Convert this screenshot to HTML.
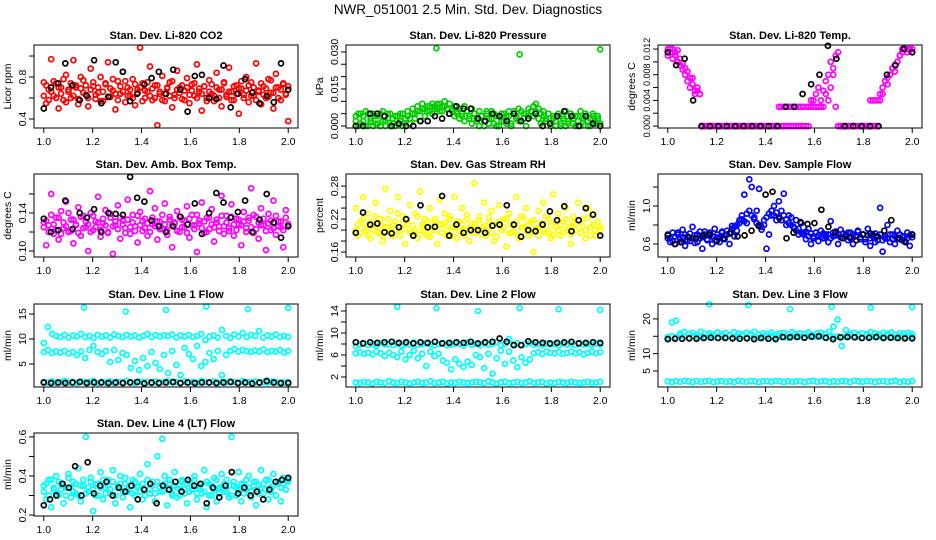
<!DOCTYPE html>
<html><head><meta charset="utf-8"><style>
body{margin:0;background:#fff}
svg{display:block;font-family:"Liberation Sans",Arial,sans-serif}
</style></head><body>
<svg id="chart" width="936" height="540" viewBox="0 0 936 540" xmlns="http://www.w3.org/2000/svg">
<rect width="936" height="540" fill="#fff"/>
<text x="468" y="14" text-anchor="middle" font-size="13.5">NWR_051001  2.5 Min. Std. Dev. Diagnostics</text>
</svg>
<script>
// ---- data arrays ----
const co2Red=[0.75,0.55,0.68,0.97,0.62,0.74,0.50,0.70,0.58,0.82,0.66,0.60,0.96,0.72,0.54,0.69,0.77,0.63,0.52,0.88,0.71,0.59,0.65,0.80,0.57,0.73,0.94,0.61,0.67,0.49,0.76,0.64,0.85,0.56,0.70,0.62,0.78,0.53,0.68,1.08,0.74,0.60,0.66,0.90,0.58,0.72,0.34,0.64,0.81,0.57,0.69,0.75,0.51,0.63,0.86,0.70,0.59,0.67,0.79,0.55,0.73,0.62,0.92,0.66,0.48,0.71,0.60,0.77,0.64,0.57,0.84,0.68,0.52,0.74,0.61,0.89,0.66,0.58,0.72,0.45,0.69,0.63,0.80,0.56,0.75,0.62,0.93,0.67,0.54,0.71,0.60,0.78,0.65,0.50,0.83,0.70,0.58,0.74,0.63,0.38];
const co2Red2=[0.62,0.72,0.58,0.66,0.76,0.6,0.7,0.64,0.78,0.56,0.68,0.74,0.62,0.7,0.59,0.8,0.65,0.72,0.6,0.68,0.75,0.63,0.7,0.57,0.66,0.74,0.61,0.69,0.78,0.64,0.58,0.71,0.66,0.76,0.62,0.68,0.6,0.73,0.65,0.7,0.57,0.67,0.75,0.62,0.69,0.6,0.72,0.66,0.58,0.64,0.7,0.62,0.76,0.6,0.68,0.65,0.72,0.58,0.7,0.63,0.67,0.74,0.6,0.69,0.64,0.71,0.57,0.66,0.73,0.62,0.7,0.6,0.68,0.75,0.63,0.66,0.58,0.71,0.64,0.69,0.76,0.6,0.67,0.72,0.62,0.7,0.58,0.66,0.74,0.63,0.69,0.61,0.77,0.65,0.7,0.6,0.68,0.73,0.64,0.71];
const co2Black=[0.50,0.70,0.74,0.93,0.72,0.58,0.62,0.96,0.55,0.61,0.94,0.85,0.57,0.64,0.73,0.79,0.85,0.64,0.87,0.68,0.47,0.81,0.82,0.60,0.59,0.91,0.51,0.64,0.78,0.65,0.55,0.62,0.56,0.93,0.68];
const presGreen=[0.004,0.000,0.005,0.002,0.006,0.000,0.003,0.005,0.001,0.004,0.000,0.006,0.002,0.005,0.000,0.003,0.004,0.001,0.005,0.000,0.003,0.004,0.001,0.005,0.003,0.006,0.002,0.007,0.004,0.006,0.008,0.005,0.007,0.009,0.006,0.008,0.010,0.007,0.009,0.006,0.008,0.005,0.007,0.004,0.008,0.006,0.003,0.007,0.005,0.002,0.006,0.004,0.000,0.005,0.003,0.006,0.001,0.004,0.000,0.005,0.002,0.004,0.006,0.001,0.005,0.003,0.007,0.002,0.005,0.000,0.004,0.006,0.008,0.009,0.007,0.005,0.006,0.003,0.005,0.000,0.004,0.002,0.005,0.000,0.004,0.006,0.001,0.005,0.003,0.000,0.004,0.006,0.002,0.005,0.000,0.003,0.005,0.001,0.004,0.000];
const presGreen2=[0.002,0.005,0.001,0.004,0.000,0.005,0.002,0.000,0.004,0.001,0.005,0.002,0.000,0.003,0.005,0.001,0.000,0.004,0.002,0.005,0.001,0.006,0.003,0.007,0.005,0.008,0.006,0.009,0.007,0.008,0.006,0.009,0.008,0.007,0.009,0.006,0.008,0.007,0.005,0.007,0.004,0.006,0.003,0.005,0.002,0.006,0.004,0.001,0.005,0.003,0.000,0.004,0.002,0.006,0.001,0.003,0.005,0.000,0.004,0.002,0.005,0.001,0.004,0.000,0.006,0.004,0.002,0.006,0.003,0.005,0.007,0.006,0.004,0.006,0.003,0.001,0.004,0.002,0.005,0.001,0.003,0.000,0.004,0.001,0.003,0.000,0.002,0.005,0.001,0.004,0.002,0.000,0.003,0.005,0.002,0.000,0.004,0.002,0.003,0.001];
const presOutX=[1.33,1.67,2.0];
const presOutY=[0.0315,0.0290,0.0310];
const presBlack=[0.000,0.000,0.005,0.005,0.004,0.000,0.001,0.000,0.000,0.002,0.002,0.004,0.003,0.005,0.008,0.007,0.007,0.003,0.002,0.005,0.004,0.002,0.005,0.002,0.003,0.005,0.000,0.001,0.004,0.006,0.004,0.000,0.004,0.001,0.000];
const tempMagA=[0.012,0.0115,0.012,0.011,0.0118,0.0105,0.0098,0.009,0.0085,0.0075,0.0065,0.0055,0.006,0.005,0,0,0,0,0,0,0,0,0,0,0,0,0,0,0,0,0,0,0,0,0,0,0,0,0,0,0,0,0,0,0,0.003,0.003,0.003,0.003,0.003,0.003,0.003,0.003,0.003,0.003,0.003,0.003,0.003,0.003,0.003,0.003,0.003,0.003,0.0055,0.007,0.008,0.010,0.009,0.011,0.0115,0,0,0,0,0,0,0,0,0,0,0,0,0,0,0,0,0.005,0.006,0.007,0.0065,0.008,0.009,0.0085,0.010,0.011,0.0115,0.012,0.012,0.0118,0.0115];
const tempMagB=[0.011,0.012,0.0105,0.0115,0.010,0.0095,0.0088,0.008,0.007,0.006,0.0075,0.005,0.0055,0.005,0,0,0,0,0,0,0,0,0,0,0,0,0,0,0,0,0,0,0,0,0,0,0,0,0,0,0,0,0,0,0,0,0,0,0,0,0,0,0,0,0,0,0,0,0.004,0.004,0.005,0.006,0.004,0.003,0.005,0.004,0.006,0.008,0.003,0,0,0,0,0,0,0,0,0,0,0,0,0,0.004,0.004,0.004,0.004,0.004,0.005,0.007,0.0075,0.008,0.009,0.0095,0.010,0.011,0.012,0.012,0.0115,0.012,0.012];
const tempBlack=[0.0115,0.0095,0.0105,0.004,0,0,0,0,0,0,0,0,0,0,0.003,0.003,0.005,0.0065,0.008,0.0125,0.0105,0,0,0,0,0,0.008,0.0095,0.012,0.0115];
const ambMag=[0.13,0.106,0.127,0.16,0.118,0.135,0.112,0.142,0.124,0.152,0.12,0.133,0.108,0.128,0.146,0.116,0.137,0.125,0.10,0.14,0.122,0.131,0.157,0.115,0.129,0.143,0.119,0.135,0.097,0.127,0.148,0.113,0.132,0.124,0.154,0.118,0.138,0.126,0.109,0.141,0.121,0.134,0.116,0.163,0.128,0.145,0.112,0.131,0.123,0.15,0.117,0.136,0.104,0.129,0.142,0.12,0.133,0.125,0.147,0.114,0.138,0.127,0.099,0.132,0.151,0.119,0.135,0.123,0.144,0.11,0.13,0.126,0.158,0.118,0.137,0.121,0.149,0.116,0.134,0.128,0.106,0.141,0.124,0.132,0.166,0.119,0.136,0.113,0.145,0.127,0.101,0.139,0.122,0.153,0.117,0.131,0.125,0.104,0.143,0.128];
const ambMag2=[0.125,0.132,0.12,0.138,0.128,0.122,0.135,0.118,0.13,0.126,0.14,0.121,0.133,0.127,0.119,0.136,0.124,0.131,0.128,0.12,0.137,0.125,0.13,0.122,0.134,0.127,0.12,0.139,0.126,0.131,0.123,0.135,0.128,0.119,0.133,0.125,0.13,0.121,0.137,0.127,0.132,0.124,0.129,0.12,0.135,0.126,0.131,0.123,0.138,0.128,0.122,0.133,0.127,0.13,0.121,0.136,0.125,0.132,0.119,0.134,0.127,0.123,0.138,0.129,0.124,0.131,0.12,0.135,0.128,0.125,0.133,0.121,0.137,0.126,0.13,0.124,0.136,0.128,0.122,0.133,0.127,0.131,0.12,0.135,0.125,0.138,0.123,0.13,0.127,0.134,0.121,0.129,0.132,0.124,0.137,0.126,0.131,0.122,0.135,0.128];
const ambBlack=[0.134,0.12,0.122,0.153,0.123,0.14,0.135,0.144,0.12,0.14,0.139,0.138,0.178,0.156,0.152,0.132,0.126,0.12,0.126,0.136,0.128,0.15,0.118,0.14,0.161,0.151,0.135,0.141,0.153,0.12,0.133,0.16,0.13,0.114,0.126];
const rhYellow=[0.24,0.19,0.215,0.26,0.2,0.23,0.185,0.21,0.25,0.195,0.22,0.18,0.275,0.205,0.235,0.19,0.215,0.26,0.2,0.225,0.175,0.21,0.245,0.195,0.23,0.185,0.27,0.205,0.22,0.19,0.24,0.2,0.215,0.175,0.255,0.21,0.23,0.19,0.22,0.205,0.26,0.185,0.215,0.24,0.2,0.228,0.18,0.21,0.285,0.195,0.225,0.205,0.25,0.19,0.215,0.235,0.18,0.21,0.245,0.2,0.22,0.17,0.23,0.195,0.21,0.26,0.185,0.225,0.205,0.24,0.19,0.215,0.16,0.2,0.235,0.21,0.25,0.195,0.22,0.185,0.265,0.205,0.23,0.19,0.215,0.24,0.2,0.175,0.225,0.21,0.25,0.195,0.22,0.185,0.24,0.205,0.23,0.19,0.215,0.2];
const rhYellow2=[0.2,0.21,0.195,0.22,0.205,0.19,0.215,0.2,0.225,0.198,0.21,0.19,0.205,0.22,0.195,0.21,0.2,0.23,0.19,0.212,0.203,0.218,0.195,0.208,0.2,0.225,0.192,0.21,0.2,0.215,0.188,0.205,0.22,0.198,0.21,0.195,0.213,0.2,0.225,0.19,0.205,0.215,0.198,0.21,0.19,0.22,0.203,0.195,0.212,0.2,0.218,0.192,0.207,0.2,0.223,0.195,0.21,0.188,0.215,0.2,0.205,0.22,0.194,0.21,0.198,0.215,0.19,0.205,0.222,0.2,0.21,0.195,0.218,0.203,0.19,0.212,0.2,0.225,0.196,0.208,0.19,0.215,0.2,0.21,0.195,0.22,0.205,0.192,0.213,0.2,0.218,0.195,0.207,0.2,0.222,0.19,0.21,0.2,0.215,0.205];
const rhBlack=[0.195,0.232,0.21,0.212,0.196,0.194,0.205,0.22,0.19,0.245,0.205,0.206,0.262,0.19,0.21,0.195,0.2,0.2,0.195,0.208,0.21,0.245,0.21,0.188,0.2,0.198,0.21,0.234,0.218,0.243,0.198,0.218,0.24,0.228,0.19];
const flowBlue=[0.66,0.62,0.72,0.6,0.7,0.65,0.75,0.58,0.68,0.63,0.78,0.61,0.7,0.66,0.55,0.73,0.64,0.69,0.6,0.76,0.67,0.62,0.72,0.65,0.7,0.6,0.79,0.68,0.74,0.85,0.9,1.12,0.82,1.28,1.2,0.88,0.95,1.18,0.75,0.8,0.55,0.7,0.9,1.0,0.85,1.05,0.95,1.13,0.8,0.9,0.88,0.78,0.85,0.7,0.82,0.72,0.65,0.76,0.6,0.68,0.72,0.63,0.74,0.66,0.7,0.62,0.84,0.68,0.73,0.6,0.75,0.66,0.7,0.64,0.72,0.6,0.68,0.74,0.65,0.7,0.62,0.76,0.58,0.68,0.71,0.64,0.98,0.52,0.66,0.8,0.62,0.7,0.6,0.74,0.65,0.68,0.63,0.72,0.58,0.7];
const flowBlue2=[0.7,0.66,0.63,0.68,0.72,0.62,0.67,0.7,0.64,0.71,0.66,0.69,0.62,0.73,0.67,0.7,0.65,0.72,0.68,0.64,0.7,0.66,0.73,0.69,0.74,0.71,0.76,0.78,0.8,0.82,0.86,0.84,0.92,0.95,0.9,0.86,0.82,0.8,0.78,0.85,0.88,0.92,0.95,0.9,0.93,0.88,0.85,0.9,0.86,0.82,0.8,0.77,0.74,0.76,0.72,0.7,0.73,0.68,0.71,0.66,0.72,0.69,0.67,0.71,0.68,0.7,0.66,0.72,0.69,0.7,0.67,0.71,0.68,0.72,0.66,0.7,0.68,0.73,0.67,0.7,0.65,0.69,0.66,0.7,0.62,0.68,0.7,0.64,0.68,0.66,0.7,0.65,0.68,0.66,0.7,0.64,0.68,0.66,0.69,0.67];
const flowBlack=[0.69,0.6,0.62,0.67,0.66,0.69,0.7,0.63,0.66,0.72,0.68,0.69,0.74,0.79,1.12,1.15,0.87,0.66,0.72,0.83,0.81,0.82,0.96,0.78,0.72,0.66,0.67,0.64,0.7,0.71,0.68,0.74,0.85,0.66,0.62,0.7];
const l1Upper=[9.2,12.4,11,10.6,10.4,10.8,10.3,10.7,10.5,11.0,10.4,10.6,10.2,10.8,10.5,10.7,10.3,10.9,10.6,10.4,10.8,10.5,10.7,10.3,10.6,11.0,10.4,10.8,10.5,10.7,10.6,10.9,10.3,10.7,10.5,10.8,10.4,10.6,11.0,9.8,10.5,10.7,10.3,11.8,10.6,10.2,10.9,10.5,11.2,10.4,10.8,10.6,11.6,10.3,10.7,10.5,10.9,10.4,10.6,10.4];
const l1Middle=[7.4,7.8,7.2,7.5,7.3,7.6,7.1,7.4,6.8,7.5,6.2,7.8,8.6,7.4,7.0,7.6,5.4,7.8,5.8,7.2,6.8,4.2,5.6,3.8,6.2,4.6,7.4,5.2,4.0,6.8,3.2,7.6,4.8,2.8,8.2,7.0,6.0,8.6,4.6,5.4,7.2,6.0,7.6,2.8,6.8,7.6,8.0,7.5,7.8,7.6,7.4,7.7,7.5,7.9,7.4,7.6,7.5,7.8,7.3,7.6];
const l1Bottom=[1.4,1.3,1.5,1.2,1.4,1.6,1.3,1.4,1.2,1.5,1.3,1.4,1.6,1.2,1.4,1.3,1.5,1.2,1.4,1.3,1.6,1.4,1.2,1.5,1.3,1.4,1.2,1.5,1.3,1.4,1.6,1.3,1.4,1.2,1.5,1.3,1.4,1.2,1.6,1.4,1.3,1.5,1.2,1.4,1.3,1.5,1.4,1.2,1.6,1.3,1.4,1.5,1.2,1.4,1.3,1.5,1.4,1.2,1.3,1.4];
const l1OutX=[1.165,1.335,1.5,1.665,1.835,2.0];
const l1OutY=[16.3,15.5,15.8,16.5,16.0,16.2];
const l1Black=[1.3,1.2,1.3,1.2,1.3,1.4,1.2,1.3,1.3,1.2,1.3,1.2,1.3,1.4,1.1,1.3,1.2,1.3,1.4,1.2,1.3,1.2,1.3,1.3,1.2,1.3,1.4,1.2,1.3,1.1,1.3,1.6,1.3,1.2,1.2];
const l2Upper=[7.6,7.9,8.1,7.8,8.0,7.7,8.2,7.9,8.0,7.8,8.1,7.7,8.0,7.9,8.3,7.8,8.0,8.1,7.9,7.7,8.0,8.2,7.8,7.9,8.1,8.0,7.7,8.3,7.9,8.0,7.8,8.1,7.9,8.0,8.4,7.8,8.0,8.9,7.9,8.1,7.8,8.0,8.2,7.9,8.0,7.8,8.1,7.9,8.0,7.7,8.1,7.9,8.0,7.8,8.2,7.9,8.0,7.8,8.1,7.9];
const l2Middle=[6.3,6.5,6.2,6.4,6.1,6.6,6.3,5.8,6.4,6.0,5.6,6.6,5.2,6.0,6.8,5.4,6.2,4.0,6.6,5.8,6.2,5.0,4.6,3.4,5.2,4.4,3.8,4.8,4.2,6.0,5.6,3.6,6.2,2.6,5.4,6.8,4.4,6.6,5.0,3.8,5.6,4.6,5.2,6.3,6.5,6.2,6.6,6.4,6.3,6.5,6.2,6.4,6.6,6.3,6.5,6.1,6.4,6.6,6.3,6.5];
const l2Bottom=[1.0,0.9,1.1,1.0,0.8,1.1,1.0,0.9,1.2,1.0,0.9,1.1,1.0,0.8,1.0,1.1,0.9,1.0,1.2,0.9,1.0,1.1,0.8,1.0,0.9,1.1,1.0,0.9,1.0,1.1,1.0,0.9,1.2,1.0,0.8,1.0,1.1,0.9,1.0,1.1,0.9,1.0,1.2,0.9,1.0,1.1,0.8,1.0,0.9,1.1,1.0,0.9,1.1,1.0,0.9,1.0,1.1,0.9,1.0,1.1];
const l2OutX=[1.17,1.33,1.5,1.67,1.83,2.0];
const l2OutY=[14.8,14.5,14.0,14.5,14.3,14.2];
const l2Black=[8.3,8.1,8.3,8.2,8.3,8.4,8.2,8.3,8.1,8.3,8.2,8.4,8.1,8.2,8.3,8.2,8.4,8.1,8.3,8.4,9.0,8.4,7.8,7.8,8.5,8.3,8.2,8.1,8.2,8.3,8.4,8.1,8.2,8.3,8.2];
const l3Upper=[14.2,19,19.5,15.8,16.2,15.6,16.0,15.4,16.3,15.7,15.9,15.5,16.1,15.6,16.0,15.4,16.2,15.8,15.5,16.0,15.7,16.3,15.5,15.9,15.6,16.1,15.4,15.8,16.0,15.6,16.2,15.5,15.9,15.7,16.1,15.4,15.8,16.0,15.6,16.3,17.8,19.8,12.2,16.8,15.7,16.0,15.5,15.9,15.6,16.2,15.8,15.5,16.0,15.7,16.1,15.4,15.9,15.7,16.0,15.6];
const l3Mid=[14.8,15.0,14.6,15.2,14.9,14.5,15.1,14.8,15.0,14.7,15.2,14.9,14.6,15.0,14.8,15.1,14.7,14.9,15.0,14.6,15.2,14.8,14.5,15.0,14.9,15.1,14.7,15.0,14.8,14.6,15.1,14.9,15.0,14.7,15.2,14.8,14.9,15.0,14.6,15.1,14.8,15.0,14.7,14.9,15.1,14.8,15.0,14.6,15.2,14.9,14.7,15.0,14.8,15.1,14.9,14.6,15.0,14.8,15.1,14.9];
const l3Bottom=[2.0,1.8,2.1,1.9,2.2,2.0,1.8,2.1,1.9,2.0,2.2,1.8,2.0,2.1,1.9,2.0,1.8,2.2,2.0,1.9,2.1,2.0,1.8,2.0,2.1,1.9,2.2,2.0,1.8,2.1,1.9,2.0,2.1,1.8,2.0,2.2,1.9,2.0,2.1,1.8,2.0,1.9,2.1,2.0,1.8,2.2,2.0,1.9,2.1,2.0,1.8,2.0,2.1,1.9,2.0,2.2,1.8,2.0,1.9,2.1];
const l3OutX=[1.17,1.33,1.5,1.67,1.83,2.0];
const l3OutY=[24.2,24.0,22.8,23.5,23.2,23.4];
const l3Black=[14.2,14.3,14.3,14.4,14.3,14.5,14.6,14.5,14.5,14.4,14.3,14.4,14.2,14.5,14.3,14.2,14.8,14.7,14.8,14.6,14.9,15.0,14.6,14.2,14.7,14.8,14.7,14.5,14.6,14.8,14.5,14.6,14.5,14.4,14.4];
const l4Cyan=[0.35,0.28,0.38,0.24,0.33,0.4,0.3,0.36,0.26,0.34,0.41,0.29,0.37,0.31,0.44,0.27,0.35,0.6,0.32,0.39,0.22,0.36,0.3,0.42,0.28,0.34,0.38,0.31,0.43,0.26,0.35,0.4,0.29,0.36,0.32,0.24,0.38,0.3,0.35,0.41,0.28,0.33,0.46,0.31,0.37,0.27,0.5,0.32,0.59,0.4,0.25,0.36,0.3,0.42,0.29,0.35,0.38,0.31,0.26,0.37,0.33,0.4,0.28,0.35,0.31,0.43,0.24,0.36,0.3,0.39,0.27,0.34,0.41,0.32,0.38,0.29,0.6,0.35,0.3,0.42,0.27,0.36,0.33,0.4,0.29,0.37,0.25,0.35,0.43,0.31,0.38,0.28,0.34,0.41,0.3,0.36,0.27,0.39,0.33,0.37];
const l4Cyan2=[0.32,0.36,0.3,0.38,0.34,0.31,0.37,0.33,0.35,0.3,0.39,0.34,0.32,0.36,0.3,0.35,0.38,0.31,0.34,0.37,0.33,0.3,0.36,0.34,0.38,0.31,0.35,0.33,0.37,0.3,0.34,0.36,0.32,0.39,0.33,0.35,0.31,0.37,0.34,0.32,0.36,0.3,0.38,0.33,0.35,0.31,0.37,0.34,0.32,0.36,0.33,0.38,0.31,0.35,0.34,0.3,0.37,0.33,0.36,0.32,0.35,0.38,0.31,0.34,0.36,0.32,0.37,0.3,0.35,0.33,0.38,0.31,0.34,0.36,0.32,0.35,0.3,0.37,0.34,0.33,0.36,0.31,0.38,0.34,0.32,0.35,0.37,0.31,0.34,0.36,0.33,0.38,0.32,0.35,0.3,0.37,0.34,0.36,0.33,0.38];
const l4Black=[0.25,0.28,0.3,0.36,0.34,0.45,0.3,0.47,0.31,0.35,0.37,0.3,0.34,0.32,0.35,0.28,0.33,0.36,0.26,0.35,0.33,0.37,0.32,0.38,0.35,0.36,0.26,0.34,0.29,0.35,0.42,0.31,0.34,0.3,0.32,0.28,0.33,0.37,0.38,0.39];

// ---- layout ----
const NS='http://www.w3.org/2000/svg';
const svg=document.getElementById('chart');
const cols=[34,346,658], rows=[45,174,304,433], W=264, H=83;
function mk(tag,attrs,parent){const e=document.createElementNS(NS,tag);for(const k in attrs)e.setAttribute(k,attrs[k]);(parent||svg).appendChild(e);return e;}
const xTicks=[1.0,1.2,1.4,1.6,1.8,2.0];
const xTickLabels=['1.0','1.2','1.4','1.6','1.8','2.0'];

const panels=[
 {name:'co2',title:'Stan. Dev. Li-820 CO2',ylab:'Licor ppm',c:0,r:0,ymin:0.314,ymax:1.105,yt:[0.4,0.6,0.8,1.0],yl:['0.4','','0.8',''],
  series:[[co2Red,'#ff0000'],[co2Red2,'#ff0000'],[co2Black,'#000']]},
 {name:'pressure',title:'Stan. Dev. Li-820 Pressure',ylab:'kPa',c:1,r:0,ymin:-0.0008,ymax:0.0328,yt:[0,0.005,0.01,0.015,0.02,0.025,0.03],yl:['0.000','','','0.015','','','0.030'],
  series:[[presGreen,'#00cc00'],[presGreen2,'#00cc00'],[presBlack,'#000']],out:[presOutX,presOutY,'#00cc00']},
 {name:'temp',title:'Stan. Dev. Li-820 Temp.',ylab:'degrees C',c:2,r:0,ymin:-0.0003,ymax:0.01263,yt:[0,0.002,0.004,0.006,0.008,0.01,0.012],yl:['0.000','','0.004','','0.008','','0.012'],fs:9,
  series:[[tempMagA,'#ff00ff'],[tempMagB,'#ff00ff'],[tempBlack,'#000']]},
 {name:'amb-box-temp',title:'Stan. Dev. Amb. Box Temp.',ylab:'degrees C',c:0,r:1,ymin:0.0937,ymax:0.181,yt:[0.10,0.12,0.14,0.16],yl:['0.10','','0.14',''],
  series:[[ambMag,'#ff00ff'],[ambMag2,'#ff00ff'],[ambBlack,'#000']]},
 {name:'gas-stream-rh',title:'Stan. Dev. Gas Stream RH',ylab:'percent',c:1,r:1,ymin:0.151,ymax:0.302,yt:[0.16,0.18,0.20,0.22,0.24,0.26,0.28],yl:['0.16','','','0.22','','','0.28'],
  series:[[rhYellow,'#ffff00'],[rhYellow2,'#ffff00'],[rhBlack,'#000']]},
 {name:'sample-flow',title:'Stan. Dev. Sample Flow',ylab:'ml/min',c:2,r:1,ymin:0.463,ymax:1.337,yt:[0.6,0.8,1.0,1.2],yl:['0.6','','1.0',''],
  series:[[flowBlue,'#0000ff'],[flowBlue2,'#0000ff'],[flowBlack,'#000']]},
 {name:'line1-flow',title:'Stan. Dev. Line 1 Flow',ylab:'ml/min',c:0,r:2,ymin:0.4,ymax:17,yt:[5,10,15],yl:['5','10','15'],
  series:[[l1Upper,'#00ffff'],[l1Middle,'#00ffff'],[l1Bottom,'#00ffff'],[l1Black,'#000']],out:[l1OutX,l1OutY,'#00ffff']},
 {name:'line2-flow',title:'Stan. Dev. Line 2 Flow',ylab:'ml/min',c:1,r:2,ymin:0.18,ymax:15.27,yt:[2,4,6,8,10,12,14],yl:['2','','6','','10','','14'],
  series:[[l2Upper,'#00ffff'],[l2Middle,'#00ffff'],[l2Bottom,'#00ffff'],[l2Black,'#000']],out:[l2OutX,l2OutY,'#00ffff']},
 {name:'line3-flow',title:'Stan. Dev. Line 3 Flow',ylab:'ml/min',c:2,r:2,ymin:0.39,ymax:24.3,yt:[5,10,15,20],yl:['5','10','','20'],
  series:[[l3Upper,'#00ffff'],[l3Mid,'#00ffff'],[l3Bottom,'#00ffff'],[l3Black,'#000']],out:[l3OutX,l3OutY,'#00ffff']},
 {name:'line4-flow',title:'Stan. Dev. Line 4 (LT) Flow',ylab:'ml/min',c:0,r:3,ymin:0.195,ymax:0.62,yt:[0.2,0.3,0.4,0.5,0.6],yl:['0.2','','0.4','','0.6'],
  series:[[l4Cyan,'#00ffff'],[l4Cyan2,'#00ffff'],[l4Black,'#000']]}
];

panels.forEach(p=>{
  const L=cols[p.c], T=rows[p.r];
  const g=mk('g',{});
  
  
  const xs=v=>L+(v-0.96)/(1.08)*W;
  const ys=v=>T+H-(v-p.ymin)/(p.ymax-p.ymin)*H;
  const t=mk('text',{x:L+W/2,y:T-6,'text-anchor':'middle','font-size':'11','font-weight':'bold'},g);
  t.textContent=p.title;
  
  
  const marks=mk('g',{fill:'none','stroke-width':'1.7'},g);
  
  
  const drawSer=(xsArr,ysArr,col)=>{
    for(let i=0;i<ysArr.length;i++){
      mk('circle',{cx:xs(xsArr[i]).toFixed(1),cy:ys(ysArr[i]).toFixed(1),r:'2.5',stroke:col},marks);
    }
  };
  p.series.forEach(s=>{
    const vals=s[0], n=vals.length;
    const xv=vals.map((_,i)=>1+i/(n-1));
    if(s[1]!=='#000') drawSer(xv,vals,s[1]);
  });
  if(p.out) drawSer(p.out[0],p.out[1],p.out[2]);
  p.series.forEach(s=>{
    const vals=s[0], n=vals.length;
    const xv=vals.map((_,i)=>1+i/(n-1));
    if(s[1]==='#000') drawSer(xv,vals,s[1]);
  });
  const b=mk('rect',{x:L,y:T,width:W,height:H,fill:'none',stroke:'#000','stroke-width':'1'},g);
  
  
  xTicks.forEach((v,i)=>{
    const x=xs(v);
    mk('line',{x1:x,x2:x,y1:T+H,y2:T+H+5,stroke:'#000'},g);
    const tl=mk('text',{x:x,y:T+H+17,'text-anchor':'middle','font-size':'10.5'},g);
    tl.textContent=xTickLabels[i];
    
    
  });
  const fs=p.fs||10.5;
  p.yt.forEach((v,i)=>{
    const y=ys(v);
    mk('line',{x1:L-5,x2:L,y1:y,y2:y,stroke:'#000'},g);
    if(p.yl[i]){
      const tl=mk('text',{x:0,y:0,'text-anchor':'middle','font-size':fs,transform:`translate(${L-8},${y}) rotate(-90)`},g);
      tl.textContent=p.yl[i];
      
      
    }
  });
  const yt=mk('text',{x:0,y:0,'text-anchor':'middle','font-size':'10.5',transform:`translate(${L-23},${T+H/2}) rotate(-90)`},g);
  yt.textContent=p.ylab;
  
  
});
</script>
</body></html>
